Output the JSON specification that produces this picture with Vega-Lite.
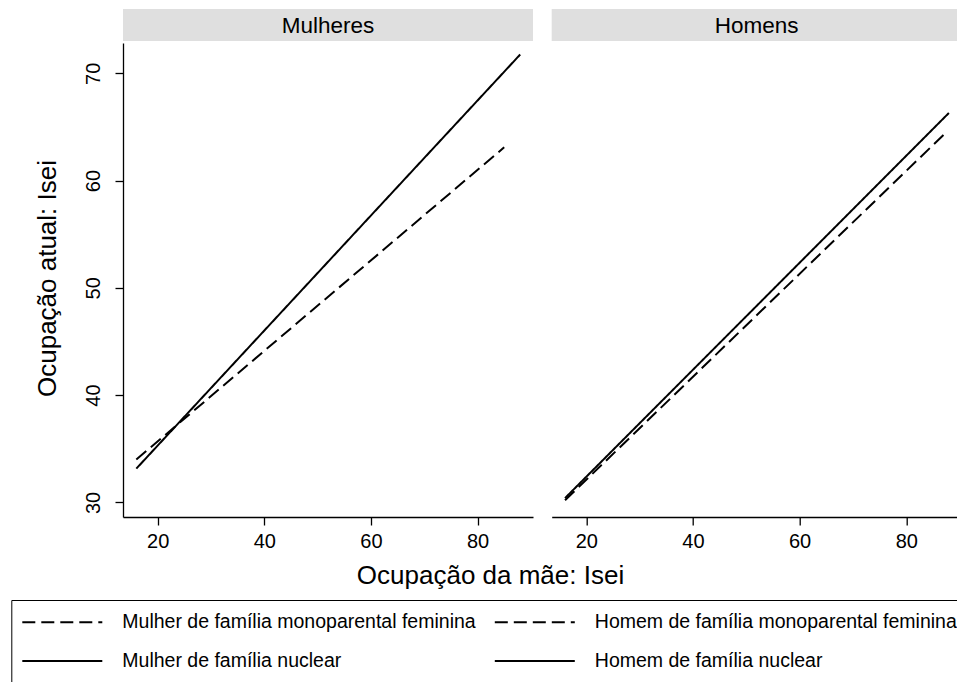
{
  "$schema": "https://vega.github.io/schema/vega-lite/v6.json",
  "background": "white",
  "padding": {"left": 10, "top": 9, "right": 0, "bottom": 0},
  "spacing": 2,
  "config": {
    "font": "Liberation Sans",
    "view": {"stroke": null},
    "axis": {
      "grid": false,
      "domainColor": "black",
      "domainWidth": 1.3,
      "tickColor": "black",
      "tickWidth": 1.3,
      "tickSize": 8,
      "labelColor": "black",
      "labelFont": "Liberation Sans",
      "labelFontSize": 20,
      "titleColor": "black",
      "titleFont": "Liberation Sans",
      "titleFontSize": 26,
      "titleFontWeight": "normal"
    }
  },
  "datasets": {
    "linhas": [
      {"painel": "Mulheres", "serie": "Mulher de família monoparental feminina", "x": 16, "y": 34.0},
      {"painel": "Mulheres", "serie": "Mulher de família monoparental feminina", "x": 85, "y": 63.1},
      {"painel": "Mulheres", "serie": "Mulher de família nuclear", "x": 16, "y": 33.15},
      {"painel": "Mulheres", "serie": "Mulher de família nuclear", "x": 88, "y": 71.75},
      {"painel": "Homens", "serie": "Homem de família monoparental feminina", "x": 16, "y": 30.2},
      {"painel": "Homens", "serie": "Homem de família monoparental feminina", "x": 87.5, "y": 64.5},
      {"painel": "Homens", "serie": "Homem de família nuclear", "x": 16, "y": 30.4},
      {"painel": "Homens", "serie": "Homem de família nuclear", "x": 88, "y": 66.3}
    ]
  },
  "vconcat": [
    {
      "spacing": 18.7,
      "bounds": "flush",
      "hconcat": [
        {
          "data": {"values": [{"painel": "Mulheres"}]},
          "width": 410,
          "height": 32,
          "view": {"fill": "#dfdfdf", "stroke": null},
          "mark": {"type": "text", "fontSize": 22.5, "font": "Liberation Sans", "color": "black", "baseline": "middle", "dy": 1},
          "encoding": {"text": {"field": "painel", "type": "nominal"}}
        },
        {
          "data": {"values": [{"painel": "Homens"}]},
          "width": 406,
          "height": 32,
          "view": {"fill": "#dfdfdf", "stroke": null},
          "mark": {"type": "text", "fontSize": 22.5, "font": "Liberation Sans", "color": "black", "baseline": "middle", "dy": 1, "dx": 2},
          "encoding": {"text": {"field": "painel", "type": "nominal"}}
        }
      ]
    },
    {
      "spacing": 18.7,
      "bounds": "flush",
      "hconcat": [
        {
          "data": {"name": "linhas"},
          "transform": [{"filter": "datum.painel === 'Mulheres'"}],
          "width": 410,
          "height": 474,
          "mark": {"type": "line", "color": "black", "strokeWidth": 2},
          "encoding": {
            "x": {
              "field": "x", "type": "quantitative",
              "scale": {"domain": [13.5, 90.4], "nice": false, "zero": false},
              "axis": {"values": [20, 40, 60, 80], "labelPadding": 6, "title": "Ocupação da mãe: Isei", "titleX": 367, "titleY": 66, "titleBaseline": "alphabetic", "titleAlign": "center", "titleAnchor": null}
            },
            "y": {
              "field": "y", "type": "quantitative",
              "scale": {"domain": [28.64, 72.82], "nice": false, "zero": false},
              "axis": {"values": [30, 40, 50, 60, 70], "labelAngle": -90, "labelPadding": 12, "title": "Ocupação atual: Isei", "titleX": -76, "titleY": 235, "titleBaseline": "middle", "titleAlign": "center", "titleAngle": -90}
            },
            "strokeDash": {
              "field": "serie", "type": "nominal",
              "scale": {
                "domain": ["Mulher de família monoparental feminina", "Mulher de família nuclear", "Homem de família monoparental feminina", "Homem de família nuclear"],
                "range": [[13, 6], [1, 0], [13, 6], [1, 0]]
              },
              "legend": {
                "title": null,
                "orient": "none",
                "legendX": -111.7,
                "legendY": 591,
                "columns": 2,
                "symbolType": "M-4,0H4",
                "symbolSize": 400,
                "symbolOffset": 29,
                "symbolStrokeWidth": 2,
                "symbolStrokeColor": "black",
                "labelFont": "Liberation Sans",
                "labelFontSize": 19.5,
                "labelColor": "black",
                "labelOffset": 49,
                "labelLimit": 0,
                "columnPadding": 14.5,
                "rowPadding": 18,
                "strokeColor": "black",
                "padding": 11
              }
            }
          }
        },
        {
          "data": {"name": "linhas"},
          "transform": [{"filter": "datum.painel === 'Homens'"}],
          "width": 406,
          "height": 474,
          "mark": {"type": "line", "color": "black", "strokeWidth": 2},
          "encoding": {
            "x": {
              "field": "x", "type": "quantitative",
              "scale": {"domain": [13.5, 89.65], "nice": false, "zero": false},
              "axis": {"values": [20, 40, 60, 80], "labelPadding": 6, "title": null}
            },
            "y": {
              "field": "y", "type": "quantitative",
              "scale": {"domain": [28.64, 72.82], "nice": false, "zero": false},
              "axis": null
            },
            "strokeDash": {
              "field": "serie", "type": "nominal"
            }
          }
        }
      ]
    }
  ]
}
